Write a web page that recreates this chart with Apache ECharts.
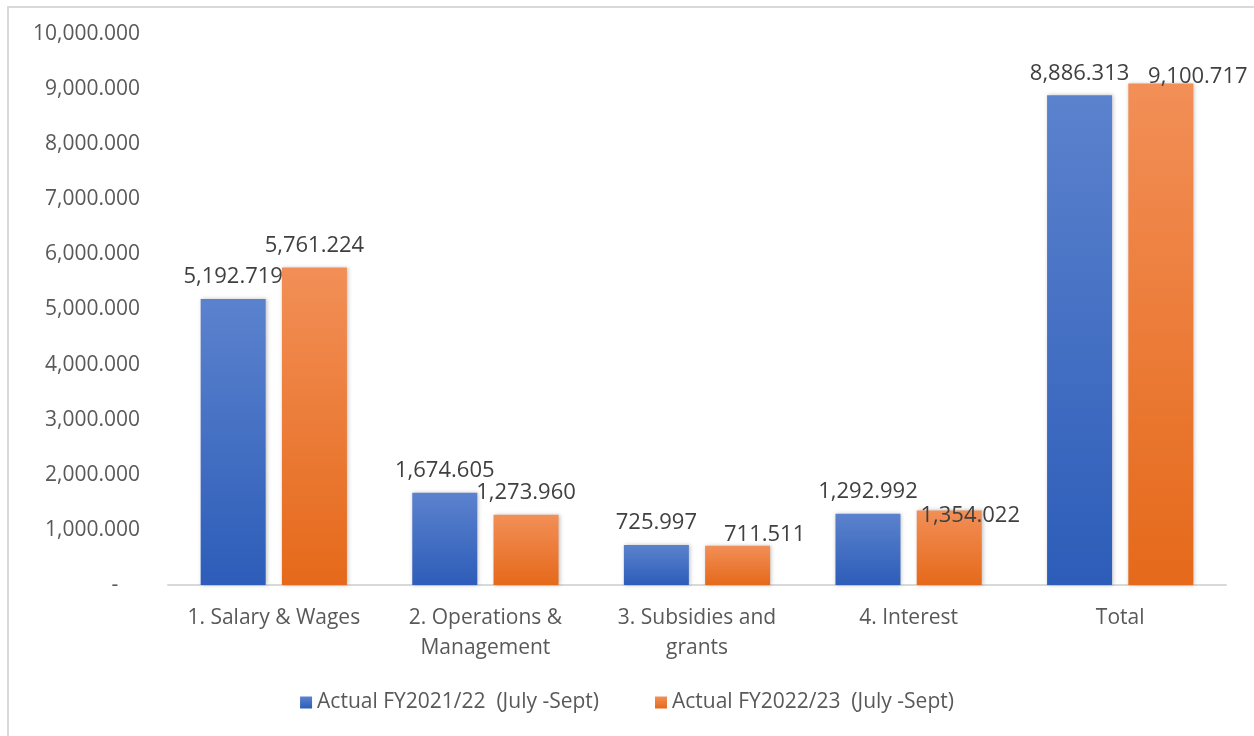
<!DOCTYPE html>
<html>
<head>
<meta charset="utf-8">
<script src="https://cdn.jsdelivr.net/npm/echarts@6/dist/echarts.min.js"></script>
<style>
  html, body { margin: 0; padding: 0; background: #fff; }
  #frame { position: absolute; left: 7px; top: 6px; width: 1250px; height: 732px; border: 2px solid #d9d9d9; box-sizing: border-box; }
  #chart { position: absolute; left: 0; top: 0; width: 1254px; height: 736px; }
</style>
</head>
<body>
<div id="frame"></div>
<div id="chart"></div>
<script>
const categories = ['1. Salary & Wages', '2. Operations &\nManagement', '3. Subsidies and\ngrants', '4. Interest', 'Total'];
const actual2122 = [5192.719, 1674.605, 725.997, 1292.992, 8886.313];
const actual2223 = [5761.224, 1273.960, 711.511, 1354.022, 9100.717];
const seriesNames = ['Actual FY2021/22  (July -Sept)', 'Actual FY2022/23  (July -Sept)'];

// a few data labels were nudged by hand in the original chart
const labelNudge2223 = { 2: [27, 11], 3: [21, 27], 4: [37, 15] };

const fmt = v => v.toLocaleString('en-US', { minimumFractionDigits: 3, maximumFractionDigits: 3 });
const font = 'Open Sans';

function grad(top, bottom) {
  return new echarts.graphic.LinearGradient(0, 0, 0, 1, [
    { offset: 0, color: top },
    { offset: 1, color: bottom }
  ]);
}

function barSeries(name, data, top, bottom, legendColor, nudge) {
  return {
    name: name,
    type: 'bar',
    data: data.map((v, i) => nudge && nudge[i] ? { value: v, label: { offset: nudge[i] } } : v),
    barWidth: 65,
    barGap: '25%',
    color: legendColor,
    itemStyle: {
      color: grad(top, bottom),
      shadowBlur: 4,
      shadowColor: 'rgba(0,0,0,0.25)',
      shadowOffsetX: 1
    },
    label: {
      show: true,
      position: 'top',
      distance: 11,
      formatter: p => fmt(p.value),
      fontFamily: font,
      fontSize: 22,
      color: '#404040'
    }
  };
}

const myChart = echarts.init(document.getElementById('chart'));
myChart.setOption({
  animation: false,
  grid: { left: 168, right: 28, top: 34, bottom: 151 },
  legend: {
    bottom: 18,
    left: 'center',
    itemWidth: 12,
    itemHeight: 12,
    itemGap: 56,
    icon: 'rect',
    textStyle: { fontFamily: font, fontSize: 21, color: '#595959' },
    data: seriesNames
  },
  xAxis: {
    type: 'category',
    data: categories,
    axisLine: { lineStyle: { color: '#d9d9d9', width: 2 } },
    axisTick: { show: false },
    axisLabel: { interval: 0, fontFamily: font, fontSize: 21, color: '#595959', margin: 18, lineHeight: 30 }
  },
  yAxis: {
    type: 'value',
    min: 0,
    max: 10000,
    interval: 1000,
    splitLine: { show: false },
    axisLine: { show: false },
    axisTick: { show: false },
    axisLabel: {
      fontFamily: font,
      fontSize: 21,
      color: '#595959',
      margin: 28,
      formatter: v => v === 0 ? '-    ' : fmt(v)
    }
  },
  series: [
    barSeries(seriesNames[0], actual2122, '#5b82cd', '#2d5db9', '#4472c4', null),
    barSeries(seriesNames[1], actual2223, '#f28f57', '#e5691a', '#ed7d31', labelNudge2223)
  ]
});
</script>
</body>
</html>
